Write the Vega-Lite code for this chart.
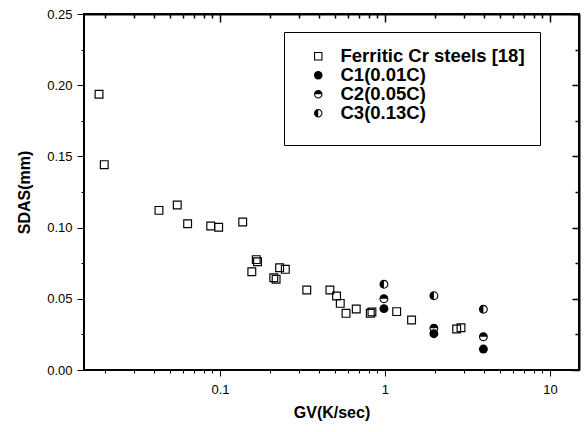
{
  "$schema": "https://vega.github.io/schema/vega-lite/v6.json",
  "width": 495,
  "height": 356,
  "autosize": {"type": "none"},
  "padding": {"left": 84, "top": 14, "right": 5, "bottom": 62},
  "background": "white",
  "config": {
    "view": {"stroke": "black", "strokeWidth": 2},
    "axis": {
      "grid": false,
      "domainColor": "black",
      "tickColor": "black",
      "labelColor": "black",
      "titleColor": "black",
      "labelFont": "Liberation Sans",
      "titleFont": "Liberation Sans",
      "labelFontSize": 13,
      "titleFontSize": 16,
      "titleFontWeight": "bold"
    }
  },
  "data": {
    "values": [
      {"gv": 0.0185, "sdas": 0.1936, "series": "Ferritic Cr steels [18]"},
      {"gv": 0.0199, "sdas": 0.1442, "series": "Ferritic Cr steels [18]"},
      {"gv": 0.0427, "sdas": 0.1121, "series": "Ferritic Cr steels [18]"},
      {"gv": 0.0551, "sdas": 0.1159, "series": "Ferritic Cr steels [18]"},
      {"gv": 0.0637, "sdas": 0.1027, "series": "Ferritic Cr steels [18]"},
      {"gv": 0.0879, "sdas": 0.1011, "series": "Ferritic Cr steels [18]"},
      {"gv": 0.0982, "sdas": 0.1002, "series": "Ferritic Cr steels [18]"},
      {"gv": 0.1374, "sdas": 0.1039, "series": "Ferritic Cr steels [18]"},
      {"gv": 0.156, "sdas": 0.069, "series": "Ferritic Cr steels [18]"},
      {"gv": 0.166, "sdas": 0.0775, "series": "Ferritic Cr steels [18]"},
      {"gv": 0.169, "sdas": 0.076, "series": "Ferritic Cr steels [18]"},
      {"gv": 0.212, "sdas": 0.0648, "series": "Ferritic Cr steels [18]"},
      {"gv": 0.219, "sdas": 0.0637, "series": "Ferritic Cr steels [18]"},
      {"gv": 0.23, "sdas": 0.0718, "series": "Ferritic Cr steels [18]"},
      {"gv": 0.249, "sdas": 0.0707, "series": "Ferritic Cr steels [18]"},
      {"gv": 0.336, "sdas": 0.0562, "series": "Ferritic Cr steels [18]"},
      {"gv": 0.464, "sdas": 0.0562, "series": "Ferritic Cr steels [18]"},
      {"gv": 0.509, "sdas": 0.052, "series": "Ferritic Cr steels [18]"},
      {"gv": 0.536, "sdas": 0.0468, "series": "Ferritic Cr steels [18]"},
      {"gv": 0.581, "sdas": 0.0398, "series": "Ferritic Cr steels [18]"},
      {"gv": 0.67, "sdas": 0.0428, "series": "Ferritic Cr steels [18]"},
      {"gv": 0.815, "sdas": 0.0398, "series": "Ferritic Cr steels [18]"},
      {"gv": 0.834, "sdas": 0.0407, "series": "Ferritic Cr steels [18]"},
      {"gv": 1.178, "sdas": 0.041, "series": "Ferritic Cr steels [18]"},
      {"gv": 1.45, "sdas": 0.0351, "series": "Ferritic Cr steels [18]"},
      {"gv": 2.72, "sdas": 0.0288, "series": "Ferritic Cr steels [18]"},
      {"gv": 2.89, "sdas": 0.0297, "series": "Ferritic Cr steels [18]"},
      {"gv": 0.986, "sdas": 0.0431, "series": "C1(0.01C)"},
      {"gv": 1.98, "sdas": 0.0255, "series": "C1(0.01C)"},
      {"gv": 3.95, "sdas": 0.0147, "series": "C1(0.01C)"},
      {"gv": 0.986, "sdas": 0.0501, "series": "C2(0.05C)"},
      {"gv": 1.98, "sdas": 0.0293, "series": "C2(0.05C)"},
      {"gv": 3.95, "sdas": 0.0234, "series": "C2(0.05C)"},
      {"gv": 0.986, "sdas": 0.0602, "series": "C3(0.13C)"},
      {"gv": 1.98, "sdas": 0.0522, "series": "C3(0.13C)"},
      {"gv": 3.95, "sdas": 0.0426, "series": "C3(0.13C)"}
    ]
  },
  "layer": [
    {
      "mark": {"type": "point", "filled": true, "color": "black", "opacity": 1, "size": 80, "strokeWidth": 0},
      "encoding": {
        "x": {
          "field": "gv", "type": "quantitative",
          "scale": {"type": "log", "domain": [0.015, 15], "nice": false},
          "axis": {"orient": "bottom", "values": [0.1, 1, 10], "format": "~g", "tickSize": 6, "labelPadding": 7, "title": "GV(K/sec)", "titlePadding": 8}
        },
        "y": {
          "field": "sdas", "type": "quantitative",
          "scale": {"domain": [0, 0.25], "nice": false, "zero": false},
          "axis": {"orient": "left", "values": [0, 0.05, 0.1, 0.15, 0.2, 0.25], "format": ".2f", "tickSize": 7, "labelPadding": 5, "title": "SDAS(mm)", "titlePadding": 14}
        },
        "shape": {
          "field": "series", "type": "nominal",
          "scale": {
            "domain": ["Ferritic Cr steels [18]", "C1(0.01C)", "C2(0.05C)", "C3(0.13C)"],
            "range": [
              "M-1,-1L1,-1L1,1L-1,1ZM-0.74,-0.74L-0.74,0.74L0.74,0.74L0.74,-0.74Z",
              "circle",
              "M-1,0A1,1,0,1,1,1,0A1,1,0,1,1,-1,0ZM-0.76,0A0.76,0.76,0,0,0,0.76,0L-0.76,0Z",
              "M-1,0A1,1,0,1,1,1,0A1,1,0,1,1,-1,0ZM0,0.76A0.76,0.76,0,0,0,0,-0.76L0,0.76Z"
            ]
          },
          "legend": {
            "orient": "none",
            "legendX": 200,
            "legendY": 18,
            "title": " ",
            "titleOrient": "bottom",
            "titleFontSize": 5,
            "titlePadding": 2,
            "padding": 15,
            "strokeColor": "black",
            "fillColor": "white",
            "labelFont": "Liberation Sans",
            "labelFontSize": 18.5,
            "labelFontWeight": "bold",
            "labelColor": "black",
            "labelLimit": 400,
            "symbolSize": 72,
            "symbolFillColor": "black",
            "symbolStrokeWidth": 0,
            "rowPadding": 0,
            "symbolOffset": 10,
            "labelOffset": 13
          }
        }
      }
    },
    {
      "mark": {"type": "point", "opacity": 0},
      "encoding": {
        "x": {
          "field": "gv", "type": "quantitative",
          "scale": {"type": "log", "domain": [0.015, 15], "nice": false},
          "axis": {"orient": "top", "values": [0.1, 1, 10], "tickSize": -8, "tickWidth": 1.5, "labels": false, "domain": true, "domainWidth": 2, "domainColor": "black", "tickColor": "black", "title": null}
        },
        "y": {
          "field": "sdas", "type": "quantitative",
          "scale": {"domain": [0, 0.25], "nice": false, "zero": false},
          "axis": {"orient": "right", "values": [0, 0.05, 0.1, 0.15, 0.2, 0.25], "tickSize": -7, "tickWidth": 1.5, "labels": false, "domain": true, "domainWidth": 2, "domainColor": "black", "tickColor": "black", "title": null}
        }
      }
    },
    {
      "mark": {"type": "point", "opacity": 0},
      "encoding": {
        "x": {
          "field": "gv", "type": "quantitative",
          "scale": {"type": "log", "domain": [0.015, 15], "nice": false},
          "axis": {"orient": "bottom", "values": [0.02, 0.03, 0.04, 0.05, 0.06, 0.07, 0.08, 0.09, 0.2, 0.3, 0.4, 0.5, 0.6, 0.7, 0.8, 0.9, 2, 3, 4, 5, 6, 7, 8, 9], "tickSize": 3, "labels": false, "domain": false, "title": null}
        },
        "y": {
          "field": "sdas", "type": "quantitative",
          "scale": {"domain": [0, 0.25], "nice": false, "zero": false},
          "axis": {"orient": "left", "values": [0.025, 0.075, 0.125, 0.175, 0.225], "tickSize": 3, "labels": false, "domain": false, "title": null}
        }
      }
    },
    {
      "mark": {"type": "point", "opacity": 0},
      "encoding": {
        "x": {
          "field": "gv", "type": "quantitative",
          "scale": {"type": "log", "domain": [0.015, 15], "nice": false},
          "axis": {"orient": "top", "values": [0.02, 0.03, 0.04, 0.05, 0.06, 0.07, 0.08, 0.09, 0.2, 0.3, 0.4, 0.5, 0.6, 0.7, 0.8, 0.9, 2, 3, 4, 5, 6, 7, 8, 9], "tickSize": -4, "tickWidth": 1.5, "labels": false, "domain": false, "tickColor": "black", "title": null}
        },
        "y": {
          "field": "sdas", "type": "quantitative",
          "scale": {"domain": [0, 0.25], "nice": false, "zero": false},
          "axis": {"orient": "right", "values": [0.025, 0.075, 0.125, 0.175, 0.225], "tickSize": -4, "tickWidth": 1.5, "labels": false, "domain": false, "tickColor": "black", "title": null}
        }
      }
    }
  ],
  "resolve": {"axis": {"x": "independent", "y": "independent"}}
}
